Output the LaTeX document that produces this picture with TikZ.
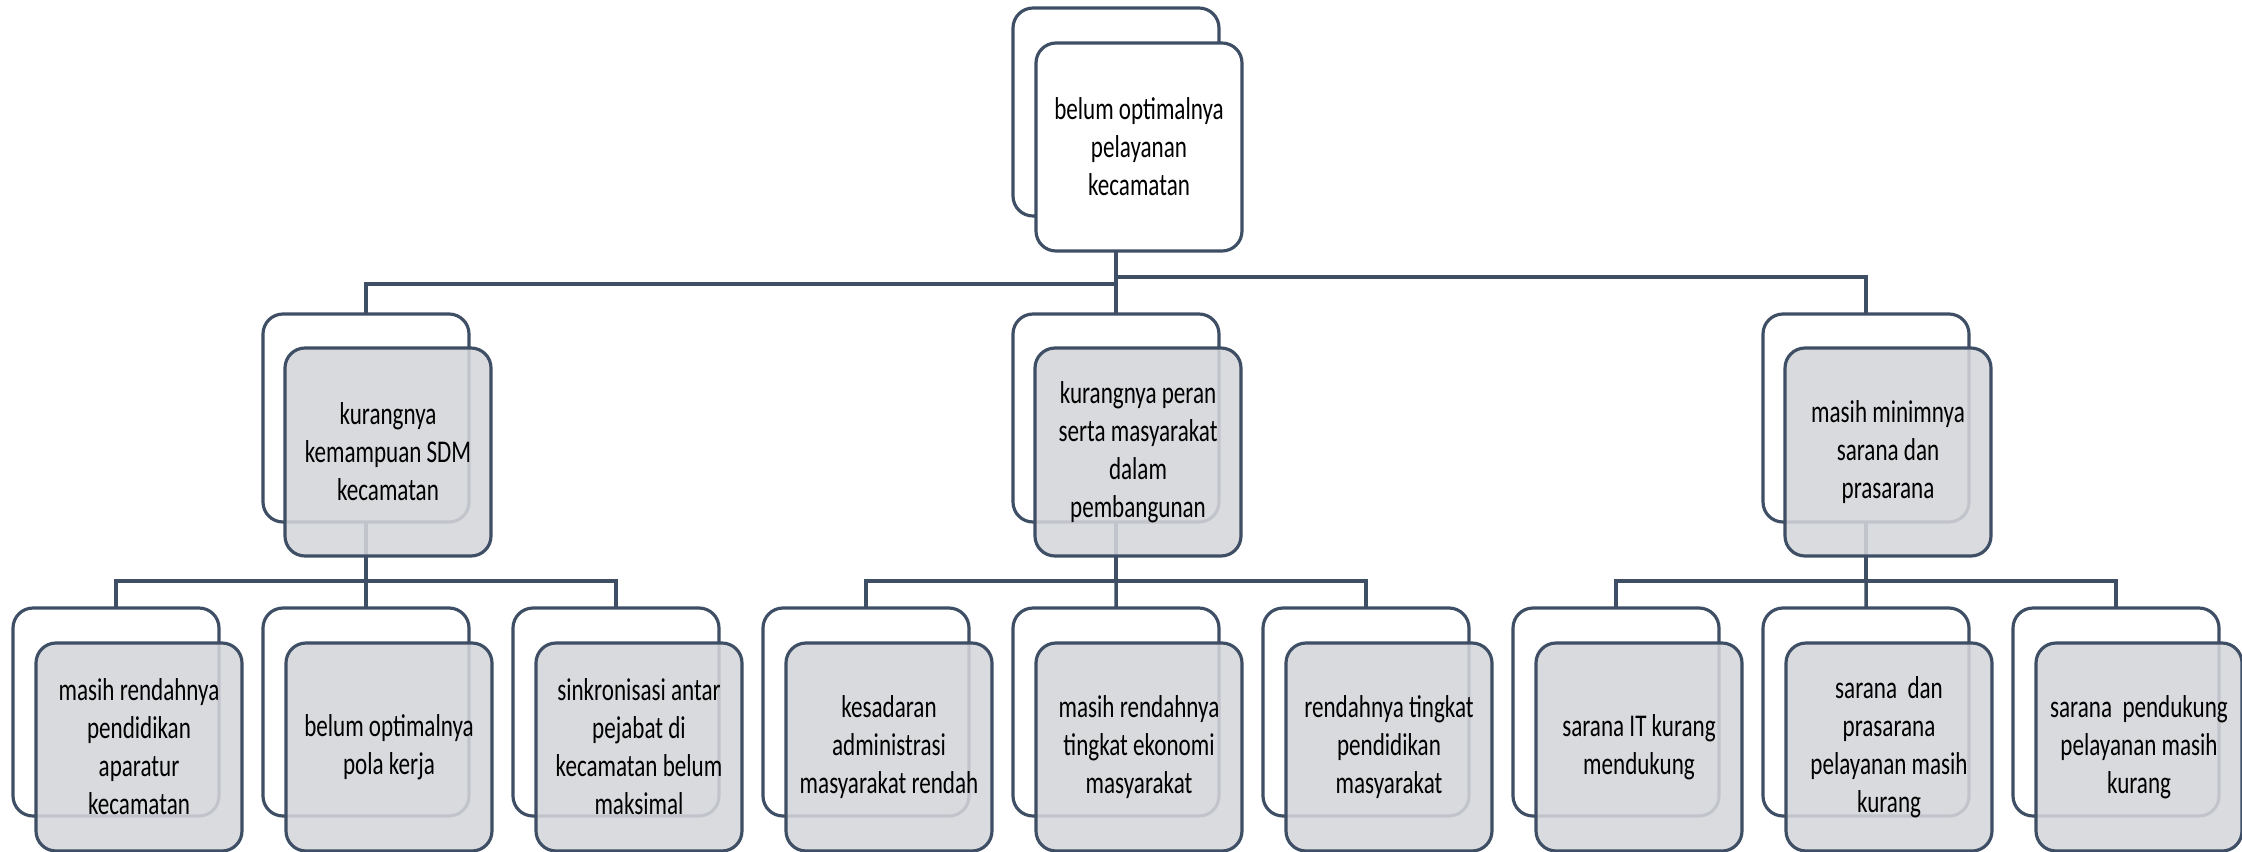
\documentclass[tikz,border=0pt]{standalone}
\usepackage{fontspec}
\setmainfont{Carlito}[FakeStretch=0.73]
\usetikzlibrary{positioning}
\definecolor{boxline}{RGB}{62,78,100}
\definecolor{boxgray}{RGB}{212,214,218}
\tikzset{
        back box/.style={
		draw=boxline,
		line width=0.9pt,
		fill=white,
		rounded corners=0.2cm,
		minimum width=2.06cm,
		minimum height=2.08cm,
		inner sep=2pt,
		outer sep=0pt,
	  },
        front box/.style={
		back box,
		fill=#1,
		fill opacity=0.88, % the back box shows through a little
		text opacity=1,
		align=center,
		font=\fontsize{9}{10.8}\selectfont,
	  },
        front box/.default=boxgray,
        link/.style={draw=boxline, line width=1pt},
    }

\begin{document}
\begin{tikzpicture}[node distance=0.44cm]
    \useasboundingbox (0,0) rectangle (22.42,-8.51);
    % back boxes
    \node [back box] (b0) at (11.16,-1.12) {};
    \node [back box] (b1) at (3.66,-4.18) {};
    \node [back box] (b2) at (11.16,-4.18) {};
    \node [back box] (b3) at (18.66,-4.18) {};
    \node [back box] (c1) at (1.16,-7.12) {};
    \node [back box, right=of c1] (c2) {};
    \node [back box, right=of c2] (c3) {};
    \node [back box, right=of c3] (c4) {};
    \node [back box, right=of c4] (c5) {};
    \node [back box, right=of c5] (c6) {};
    \node [back box, right=of c6] (c7) {};
    \node [back box, right=of c7] (c8) {};
    \node [back box, right=of c8] (c9) {};
    % connectors
    \draw [link] (b0.south) -- ++(0,-0.68) -| (b1.north);
    \draw [link] (b0.south) -- (b2.north);
    \draw [link] (b0.south) ++(0,-0.61) -| (b3.north);
    \draw [link] (b1.south) -- ++(0,-0.59) -| (c1.north);
    \draw [link] (b1.south) -- (c2.north);
    \draw [link] (b1.south) -- ++(0,-0.59) -| (c3.north);
    \draw [link] (b2.south) -- ++(0,-0.59) -| (c4.north);
    \draw [link] (b2.south) -- (c5.north);
    \draw [link] (b2.south) -- ++(0,-0.59) -| (c6.north);
    \draw [link] (b3.south) -- ++(0,-0.59) -| (c7.north);
    \draw [link] (b3.south) -- (c8.north);
    \draw [link] (b3.south) -- ++(0,-0.59) -| (c9.north);
    % front boxes
    \node [front box=white, fill opacity=1] (f0) at ([shift={(0.23,-0.35)}]b0) {belum optimalnya\\pelayanan\\kecamatan};
    \node [front box] (g1) at ([shift={(0.22,-0.34)}]b1) {kurangnya\\kemampuan SDM\\kecamatan};
    \node [front box] (g2) at ([shift={(0.22,-0.34)}]b2) {kurangnya peran\\serta masyarakat\\dalam\\pembangunan};
    \node [front box] (g3) at ([shift={(0.22,-0.34)}]b3) {masih minimnya\\sarana dan\\prasarana};
    \node [front box] (h1) at ([shift={(0.23,-0.35)}]c1) {masih rendahnya\\pendidikan\\aparatur\\kecamatan};
    \node [front box] (h2) at ([shift={(0.23,-0.35)}]c2) {belum optimalnya\\pola kerja};
    \node [front box] (h3) at ([shift={(0.23,-0.35)}]c3) {sinkronisasi antar\\pejabat di\\kecamatan belum\\maksimal};
    \node [front box] (h4) at ([shift={(0.23,-0.35)}]c4) {kesadaran\\administrasi\\masyarakat rendah};
    \node [front box] (h5) at ([shift={(0.23,-0.35)}]c5) {masih rendahnya\\tingkat ekonomi\\masyarakat};
    \node [front box] (h6) at ([shift={(0.23,-0.35)}]c6) {rendahnya tingkat\\pendidikan\\masyarakat};
    \node [front box] (h7) at ([shift={(0.23,-0.35)}]c7) {sarana IT kurang\\mendukung};
    \node [front box] (h8) at ([shift={(0.23,-0.35)}]c8) {sarana\ \ dan\\prasarana\\pelayanan masih\\kurang};
    \node [front box] (h9) at ([shift={(0.23,-0.35)}]c9) {sarana\ \ pendukung\\pelayanan masih\\kurang};
\end{tikzpicture}
\end{document}
